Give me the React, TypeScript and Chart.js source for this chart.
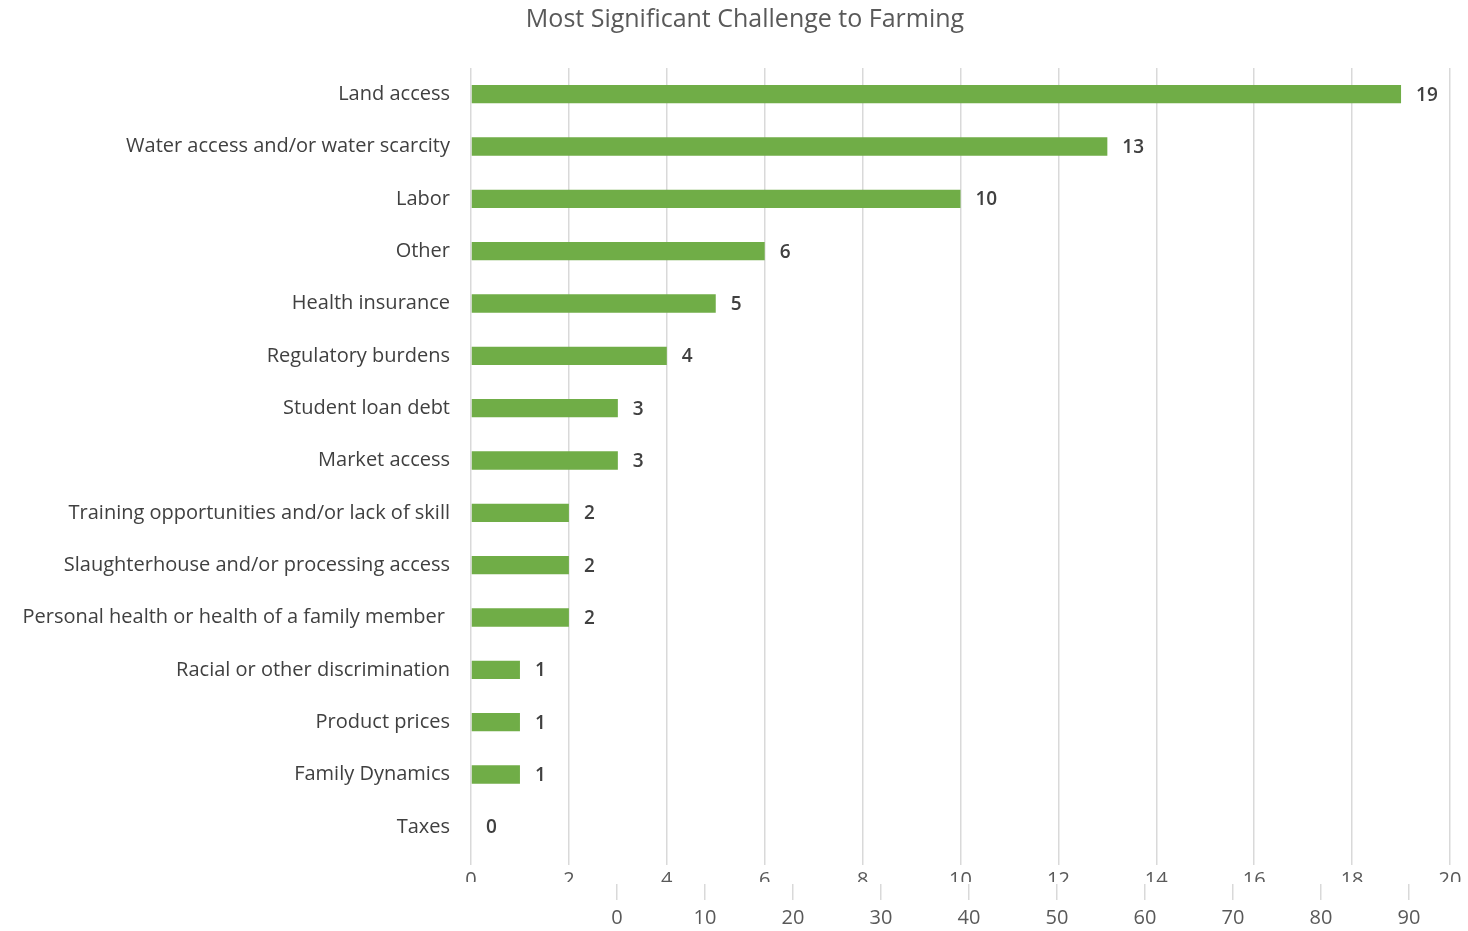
import React, { useEffect, useRef } from "react";
import { Chart, registerables } from "chart.js";

Chart.register(...registerables);

const TITLE = "Most Significant Challenge to Farming";
const categories = [
  "Land access",
  "Water access and/or water scarcity",
  "Labor",
  "Other",
  "Health insurance",
  "Regulatory burdens",
  "Student loan debt",
  "Market access",
  "Training opportunities and/or lack of skill",
  "Slaughterhouse and/or processing access",
  "Personal health or health of a family member ",
  "Racial or other discrimination",
  "Product prices",
  "Family Dynamics",
  "Taxes",
];
const counts = [19, 13, 10, 6, 5, 4, 3, 3, 2, 2, 2, 1, 1, 1, 0];
const secondAxisTicks = [0, 10, 20, 30, 40, 50, 60, 70, 80, 90, 100];

const FONT = "'Open Sans', 'Noto Sans', sans-serif";
const TEXT = "#404040";
const GRID = "#d9d9d9";
const GREEN = "#70ad47";

const dataLabels = {
  id: "dataLabels",
  afterDatasetsDraw(chart: any) {
    const ctx = chart.ctx;
    const meta = chart.getDatasetMeta(0);
    ctx.save();
    ctx.fillStyle = TEXT;
    ctx.font = `600 19px ${FONT}`;
    ctx.textAlign = "left";
    ctx.textBaseline = "middle";
    meta.data.forEach((bar: any, i: number) => {
      ctx.fillText(String(counts[i]), bar.x + 15, bar.y + 1);
    });
    ctx.restore();
  },
};

const chartTitle = {
  id: "chartTitle",
  afterDraw(chart: any) {
    const ctx = chart.ctx;
    ctx.save();
    ctx.fillStyle = "#595959";
    ctx.font = `normal 25px ${FONT}`;
    ctx.textAlign = "center";
    ctx.textBaseline = "middle";
    ctx.fillText(TITLE, 745, 20);
    ctx.restore();
  },
};

export default function App() {
  const mainRef = useRef<HTMLCanvasElement>(null);
  const axisRef = useRef<HTMLCanvasElement>(null);

  useEffect(() => {
    const main = new Chart(mainRef.current!, {
      type: "bar",
      data: {
        labels: categories,
        datasets: [
          {
            data: counts,
            backgroundColor: GREEN,
            barPercentage: 0.35,
            categoryPercentage: 1,
          },
        ],
      },
      options: {
        indexAxis: "y",
        animation: false,
        responsive: false,
        layout: { padding: { left: 0, right: 18, top: 68, bottom: 0 } },
        plugins: {
          legend: { display: false },
          tooltip: { enabled: false },
          title: { display: false },
        },
        scales: {
          x: {
            min: 0,
            max: 20,
            ticks: {
              stepSize: 2,
              color: "#595959",
              font: { family: FONT, size: 20 },
              padding: 3,
              maxRotation: 0,
            },
            grid: { color: GRID, tickLength: 12, lineWidth: 1.5 },
            border: { display: false },
            afterFit(scale: any) {
              scale.height = 78;
            },
          },
          y: {
            ticks: {
              color: TEXT,
              font: { family: FONT, size: 20 },
              padding: 13,
              autoSkip: false,
            },
            grid: { display: false },
            border: { display: false },
            afterFit(scale: any) {
              scale.width = 471;
            },
          },
        },
      },
      plugins: [dataLabels, chartTitle],
    });

    const axis = new Chart(axisRef.current!, {
      type: "scatter",
      data: { datasets: [{ data: [] }] },
      options: {
        animation: false,
        responsive: false,
        layout: { padding: { left: 617, right: 0, top: 0, bottom: 0 } },
        plugins: { legend: { display: false }, tooltip: { enabled: false } },
        scales: {
          x: {
            type: "linear",
            position: "bottom",
            min: 0,
            max: 100,
            afterBuildTicks(scale: any) {
              scale.ticks = secondAxisTicks.map((v) => ({ value: v }));
            },
            ticks: {
              color: "#595959",
              font: { family: FONT, size: 20 },
              padding: 6,
              maxRotation: 0,
              callback: (v: any) => (v === 100 ? "" : String(v)),
            },
            grid: {
              color: GRID,
              lineWidth: 1.5,
              drawOnChartArea: false,
              tickLength: 16,
            },
            border: { display: false },
            afterFit(scale: any) {
              scale.height = 47;
            },
          },
          y: { display: false },
        },
      },
    });

    return () => {
      main.destroy();
      axis.destroy();
    };
  }, []);

  return (
    <div
      style={{
        position: "fixed",
        left: 0,
        top: 0,
        width: 1468,
        height: 931,
        overflow: "hidden",
        background: "#ffffff",
      }}
    >
      <canvas
        ref={mainRef}
        width={1468}
        height={931}
        style={{ position: "absolute", left: 0, top: 0 }}
      />
      <canvas
        ref={axisRef}
        width={1503}
        height={49}
        style={{ position: "absolute", left: 0, top: 882, background: "#ffffff" }}
      />
    </div>
  );
}
